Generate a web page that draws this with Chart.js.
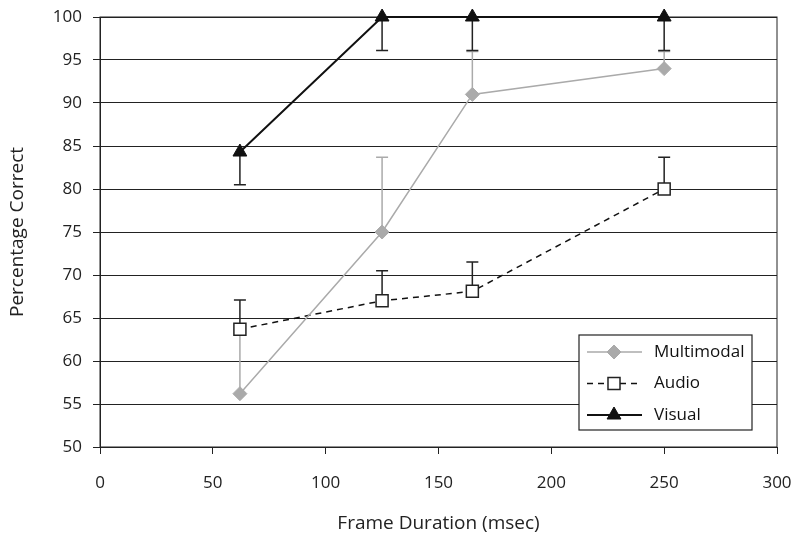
<!DOCTYPE html>
<html>
<head>
<meta charset="utf-8">
<script src="https://cdn.jsdelivr.net/npm/chart.js@4.4.0/dist/chart.umd.min.js"></script>
<style>
  html, body { margin: 0; padding: 0; background: #fff; }
  #wrap { width: 793px; height: 535px; }
</style>
</head>
<body>
<div id="wrap"><canvas id="chart"></canvas></div>
<script>
// frame durations (msec)
const durations = [62, 125, 165, 250];

// percentage correct per condition
const multimodal = [56.2, 75, 91, 94];
const audio = [63.7, 67, 68.1, 80];
const visual = [84.3, 100, 100, 100];

// error bar lengths (multimodal and audio drawn upward, visual downward)
const multimodalErr = [7.5, 8.7, 5, 2];
const audioErr = [3.4, 3.5, 3.4, 3.7];
const visualErr = [3.8, 3.9, 3.9, 3.9];

const xTicks = [0, 50, 100, 150, 200, 250, 300];
const yTicks = [50, 55, 60, 65, 70, 75, 80, 85, 90, 95, 100];

const FONT = '"Open Sans", "Noto Sans", sans-serif';

function toPoints(values) {
    return durations.map((d, i) => ({ x: d, y: values[i] }));
}

// draws error bars and plot frame under the markers
const errorBars = {
    id: 'errorBars',
    beforeDatasetsDraw(chart) {
        const ctx = chart.ctx;
        const xs = chart.scales.x, ys = chart.scales.y;
        const a = chart.chartArea;
        ctx.save();
        ctx.strokeStyle = '#222';
        ctx.lineWidth = 1;
        ctx.strokeRect(a.left, a.top, a.right - a.left, a.bottom - a.top);
        chart.data.datasets.forEach(ds => {
            ctx.strokeStyle = ds.errColor;
            ctx.lineWidth = 1.5;
            ds.data.forEach((p, i) => {
                const px = xs.getPixelForValue(p.x);
                const y0 = ys.getPixelForValue(p.y);
                const y1 = ys.getPixelForValue(p.y + ds.errDir * ds.errors[i]);
                ctx.beginPath();
                ctx.moveTo(px, y0);
                ctx.lineTo(px, y1);
                ctx.moveTo(px - 6, y1);
                ctx.lineTo(px + 6, y1);
                ctx.stroke();
            });
        });
        ctx.restore();
    }
};

// boxed legend inside the plot area
const boxLegend = {
    id: 'boxLegend',
    afterDraw(chart) {
        const ctx = chart.ctx;
        const a = chart.chartArea;
        const left = a.right - 198, top = a.bottom - 112;
        const w = 173, h = 95;
        ctx.save();
        ctx.fillStyle = '#fff';
        ctx.fillRect(left, top, w, h);
        ctx.strokeStyle = '#222';
        ctx.lineWidth = 1.2;
        ctx.strokeRect(left, top, w, h);
        chart.data.datasets.forEach((ds, i) => {
            const y = top + 17 + i * 31.5;
            const x0 = left + 8, x1 = left + 63, xm = left + 35;
            ctx.strokeStyle = ds.borderColor;
            ctx.lineWidth = ds.borderWidth;
            ctx.setLineDash(ds.borderDash || []);
            ctx.beginPath();
            ctx.moveTo(x0, y);
            ctx.lineTo(x1, y);
            ctx.stroke();
            ctx.setLineDash([]);
            ctx.fillStyle = ds.pointBackgroundColor;
            ctx.strokeStyle = ds.pointBorderColor;
            ctx.lineWidth = ds.pointBorderWidth;
            Chart.helpers.drawPoint(ctx, {
                pointStyle: ds.pointStyle,
                radius: ds.pointRadius,
                borderWidth: ds.pointBorderWidth
            }, xm, y);
            ctx.fillStyle = '#111';
            ctx.font = '17px ' + FONT;
            ctx.textBaseline = 'middle';
            ctx.fillText(ds.label, left + 75, y);
        });
        ctx.restore();
    }
};

new Chart(document.getElementById('chart'), {
    type: 'line',
    data: {
        datasets: [{
            label: 'Multimodal',
            data: toPoints(multimodal),
            errors: multimodalErr,
            errDir: 1,
            errColor: '#aaaaaa',
            borderColor: '#aaaaaa',
            borderWidth: 1.5,
            pointStyle: 'rectRot',
            pointRadius: 7,
            pointBackgroundColor: '#aaaaaa',
            pointBorderColor: '#aaaaaa',
            pointBorderWidth: 1
        }, {
            label: 'Audio',
            data: toPoints(audio),
            errors: audioErr,
            errDir: 1,
            errColor: '#222',
            borderColor: '#111',
            borderWidth: 1.5,
            borderDash: [6, 5],
            pointStyle: 'rect',
            pointRadius: 8.5,
            pointBackgroundColor: '#fff',
            pointBorderColor: '#222',
            pointBorderWidth: 1.5
        }, {
            label: 'Visual',
            data: toPoints(visual),
            errors: visualErr,
            errDir: -1,
            errColor: '#222',
            borderColor: '#111',
            borderWidth: 2,
            pointStyle: 'triangle',
            pointRadius: 8,
            pointBackgroundColor: '#111',
            pointBorderColor: '#111',
            pointBorderWidth: 1
        }]
    },
    options: {
        responsive: true,
        maintainAspectRatio: false,
        animation: false,
        clip: false,
        layout: { padding: { top: 17, right: 16, left: 0, bottom: 0 } },
        plugins: {
            legend: { display: false },
            tooltip: { enabled: false }
        },
        scales: {
            x: {
                type: 'linear',
                min: 0,
                max: 300,
                afterFit: s => { s.height = 88; s.paddingLeft = 0; s.paddingRight = 0; },
                afterBuildTicks: s => { s.ticks = xTicks.map(v => ({ value: v })); },
                grid: { drawOnChartArea: false, drawTicks: true, tickLength: 7, color: '#222' },
                border: { color: '#222', width: 1 },
                ticks: { color: '#222', font: { family: FONT, size: 17 }, padding: 19 },
                title: { display: true, text: 'Frame Duration (msec)', color: '#222',
                         font: { family: FONT, size: 19 }, padding: { top: 0, bottom: 0 } }
            },
            y: {
                min: 50,
                max: 100,
                afterFit: s => { s.width = 100; s.paddingTop = 0; s.paddingBottom = 0; },
                afterBuildTicks: s => { s.ticks = yTicks.map(v => ({ value: v })); },
                grid: { color: '#222', lineWidth: 1, drawTicks: true, tickLength: 7 },
                border: { color: '#222', width: 1 },
                ticks: { color: '#222', font: { family: FONT, size: 17 }, padding: 11 },
                title: { display: true, text: 'Percentage Correct', color: '#222',
                         font: { family: FONT, size: 19 }, padding: { top: 6, bottom: 0 } }
            }
        }
    },
    plugins: [errorBars, boxLegend]
});
</script>
</body>
</html>
